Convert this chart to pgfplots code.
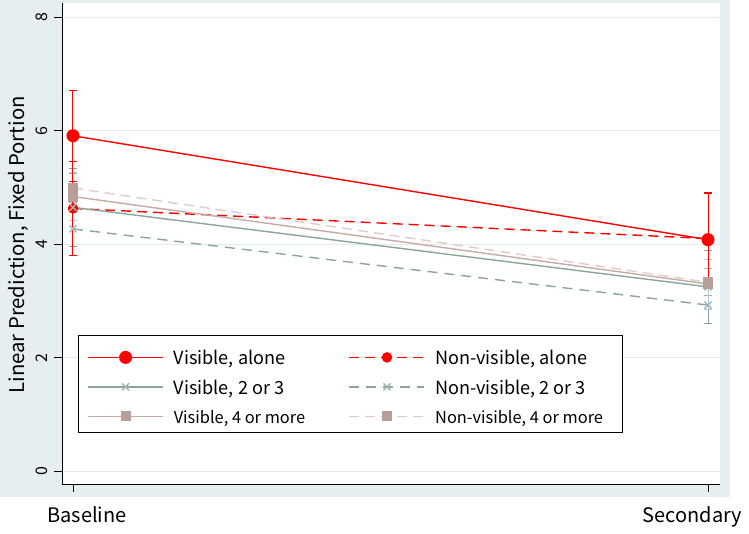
\documentclass[border=0pt]{standalone}
\usepackage{pgfplots}
\pgfplotsset{compat=1.18}
\usepackage{fontspec}
\setmainfont{Noto Sans CJK JP}

\definecolor{bggray}{RGB}{231,238,241}
\definecolor{gridc}{RGB}{226,236,240}
\definecolor{sred}{RGB}{255,0,0}
\definecolor{sgreen}{RGB}{138,166,155}
\definecolor{sgreenm}{RGB}{160,184,176}
\definecolor{spink}{RGB}{200,170,165}
\definecolor{spinkm}{RGB}{184,158,152}
\definecolor{spinkd}{RGB}{226,202,198}
\definecolor{sblue}{RGB}{168,204,232}

% legend text: width, font size, text
\newcommand{\lgtxt}[3]{\hspace*{10pt}\makebox[#1][l]{\fontsize{#2}{#2}\selectfont #3}}

\begin{document}
\begin{tikzpicture}
\useasboundingbox (0,0) rectangle (749pt,534pt);
\fill[bggray] (0,37pt) rectangle (730pt,534pt);
\begin{axis}[
  at={(62pt,50pt)}, anchor=south west,
  scale only axis, width=658pt, height=481pt,
  axis background/.style={fill=white},
  xmin=-0.01732, xmax=1.0189,
  ymin=-0.22, ymax=8.247,
  axis x line*=bottom, axis y line*=left,
  axis line style={black, line width=0.9pt},
  xtick={0,1}, ytick={0,2,4,6,8},
  tick align=outside, major tick length=8pt,
  tick style={black, line width=0.8pt},
  ymajorgrids, major grid style={gridc, line width=0.8pt},
  /pgf/number format/assume math mode=true,
  yticklabel style={xshift=-3pt, rotate=90, anchor=south, font=\fontsize{16}{16}\selectfont},
  xticklabel={\ifcase\ticknum\hspace*{28pt}Baseline\or Secondary\hspace*{31pt}\fi},
  xticklabel style={yshift=-11pt, font=\fontsize{20}{20}\selectfont},
  ylabel={Linear Prediction, Fixed Portion},
  ylabel style={at={(axis description cs:-0.067,0.497)}, anchor=center, font=\fontsize{20.3}{20.3}\selectfont},
  legend columns=2,
  legend cell align=left,
  legend style={at={(axis description cs:0.0243,0.3098)}, anchor=north west,
    draw=black, line width=0.8pt, fill=white, inner xsep=9pt, inner ysep=8pt,
    row sep=7pt, column sep=0pt, nodes={inner sep=0pt, text height=16pt, text depth=1pt}},
  legend image code/.code={\path[draw=none, fill=none] (0pt,-6pt) rectangle (0pt,14pt);
    \draw[mark repeat=2,mark phase=2,#1] plot coordinates {(0pt,0pt) (37.5pt,0pt) (75pt,0pt)};},
]
% confidence intervals
\addplot[draw=none, forget plot, error bars/.cd, y dir=both, y explicit,
  error bar style={draw=sgreen, solid, line width=1pt},
  error mark options={draw=sgreen, solid, rotate=90, mark size=4pt, line width=1pt}]
  coordinates {(0,4.65) +- (0,0.69) (1,3.25) +- (0,0.64)};
\addplot[draw=none, forget plot, error bars/.cd, y dir=both, y explicit,
  error bar style={draw=sgreen, solid, line width=1pt},
  error mark options={draw=sgreen, solid, rotate=90, mark size=4pt, line width=1pt}]
  coordinates {(0,4.27) +- (0,0.31) (1,2.93) +- (0,0.32)};
\addplot[draw=none, forget plot, error bars/.cd, y dir=both, y explicit,
  error bar style={draw=spink, solid, line width=1pt},
  error mark options={draw=spink, solid, rotate=90, mark size=4pt, line width=1pt}]
  coordinates {(0,4.99) +- (0,0.25) (1,3.33) +- (0,0.24)};
\addplot[draw=none, forget plot, error bars/.cd, y dir=both, y explicit,
  error bar style={draw=sblue, solid, line width=1pt},
  error mark options={draw=sblue, solid, rotate=90, mark size=4pt, line width=1pt}]
  coordinates {(0,4.84) +- (0,0.43) (1,3.30) +- (0,0.44)};
\addplot[draw=none, forget plot, error bars/.cd, y dir=both, y explicit,
  error bar style={draw=sred, solid, line width=1pt},
  error mark options={draw=sred, solid, rotate=90, mark size=4pt, line width=1pt}]
  coordinates {(0,4.63) +- (0,0.83) (1,4.10) +- (0,0.80)};
\addplot[draw=none, forget plot, error bars/.cd, y dir=both, y explicit,
  error bar style={draw=sred, solid, line width=1pt},
  error mark options={draw=sred, solid, rotate=90, mark size=4pt, line width=1pt}]
  coordinates {(0,5.91) +- (0,0.80) (1,4.08) +- (0,0.83)};

% predictions
\addplot[sred, line width=1.4pt, mark=*, mark size=5.8pt, mark options={solid, fill=sred}]
  coordinates {(0,5.91) (1,4.08)};
\addplot[sred, line width=1.4pt, dash pattern=on 10pt off 6pt, mark=*, mark size=4.5pt, mark options={solid, fill=sred}]
  coordinates {(0,4.63) (1,4.10)};
\addplot[sgreen, line width=1.4pt, mark=x, mark size=5pt, mark options={solid, draw=sgreenm}]
  coordinates {(0,4.65) (1,3.25)};
\addplot[sgreen, line width=1.4pt, dash pattern=on 10pt off 7pt, mark=x, mark size=5pt, mark options={solid, draw=sgreenm}]
  coordinates {(0,4.27) (1,2.93)};
\addplot[spink, line width=1.4pt, mark=square*, mark size=4.3pt, mark options={solid, draw=spinkm, fill=spinkm}]
  coordinates {(0,4.84) (1,3.30)};
\addplot[spinkd, line width=1.4pt, dash pattern=on 10pt off 6pt, mark=square*, mark size=4.3pt, mark options={solid, draw=spinkm, fill=spinkm}]
  coordinates {(0,4.99) (1,3.33)};

\legend{\lgtxt{175pt}{18.1}{Visible, alone}, \lgtxt{178pt}{18.1}{Non-visible, alone},
        \lgtxt{175pt}{18.1}{Visible, 2 or 3}, \lgtxt{178pt}{18.1}{Non-visible, 2 or 3},
        \lgtxt{175pt}{16.4}{Visible, 4 or more}, \lgtxt{178pt}{16.4}{Non-visible, 4 or more}}
\end{axis}
\end{tikzpicture}
\end{document}
